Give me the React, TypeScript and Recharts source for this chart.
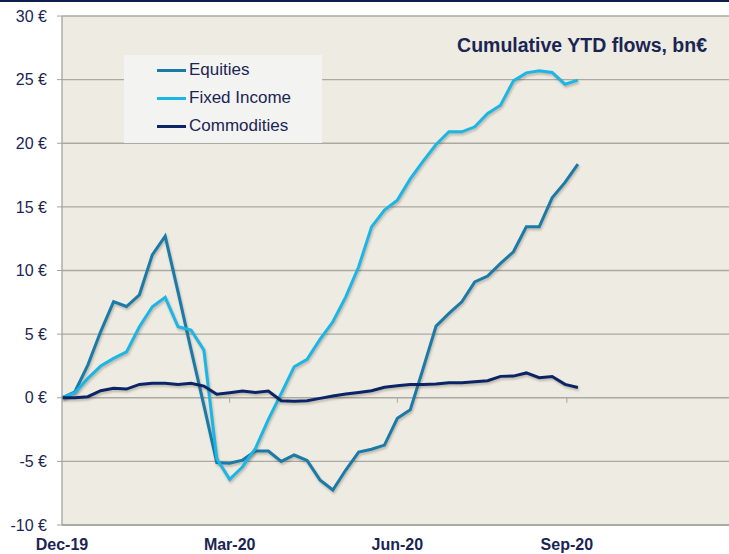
import React from "react";
import {
  LineChart,
  Line,
  XAxis,
  YAxis,
  CartesianGrid,
  ReferenceLine,
} from "recharts";

// Weekly cumulative YTD flows (bn€), week 0 = end of Dec-19
const equities = [
  0, 0.47, 2.57, 5.2, 7.56, 7.17, 8.09, 11.23, 12.7, 8.3, 3.8, -0.6, -5.1,
  -5.15, -4.9, -4.19, -4.19, -5.0, -4.5, -4.93, -6.46, -7.25, -5.68, -4.27,
  -4.05, -3.72, -1.62, -0.95, 2.3, 5.63, 6.63, 7.54, 9.11, 9.56, 10.56, 11.47,
  13.43, 13.43, 15.71, 16.92, 18.36,
];
const fixedIncome = [
  0, 0.4, 1.52, 2.49, 3.09, 3.61, 5.58, 7.15, 7.89, 5.58, 5.32, 3.75, -4.8,
  -6.41, -5.42, -3.97, -1.7, 0.35, 2.44, 3.02, 4.59, 5.97, 7.93, 10.29, 13.43,
  14.74, 15.53, 17.2, 18.6, 19.9, 20.9, 20.9, 21.29, 22.34, 22.99, 24.9, 25.53,
  25.69, 25.56, 24.64, 24.96,
];
const commodities = [
  0, 0.0, 0.08, 0.55, 0.74, 0.68, 1.05, 1.13, 1.13, 1.05, 1.13, 0.92, 0.27,
  0.39, 0.53, 0.42, 0.53, -0.23, -0.28, -0.23, -0.05, 0.13, 0.29, 0.42, 0.55,
  0.82, 0.94, 1.05, 1.05, 1.08, 1.18, 1.18, 1.26, 1.34, 1.68, 1.7, 1.95, 1.58,
  1.67, 1.05, 0.8,
];
// day offsets of each weekly observation
const dayOffsets = equities.map((_, i) => i * 7);

const xTicks = [0, 91, 182, 274];
const xTickLabels = ["Dec-19", "Mar-20", "Jun-20", "Sep-20"];
const yTicks = [-10, -5, 0, 5, 10, 15, 20, 25, 30];

const seriesNames = ["Equities", "Fixed Income", "Commodities"];
const seriesColors = ["#1A7AA8", "#1BB6E6", "#0B2466"];

const data = dayOffsets.map((d, i) => ({
  d,
  eq: equities[i],
  fi: fixedIncome[i],
  co: commodities[i],
}));

const NAVY = "#1B2553";
const FONT = "'Liberation Sans', Arial, sans-serif";

const LegendBox = () => (
  <div
    style={{
      position: "absolute",
      left: 124,
      top: 55,
      width: 198,
      height: 88,
      background: "#F3F3F2",
      boxSizing: "border-box",
      paddingTop: 1,
    }}
  >
    {seriesNames.map((n, i) => (
      <div
        key={n}
        style={{
          display: "flex",
          alignItems: "center",
          height: 28,
          paddingLeft: 33,
        }}
      >
        <div
          style={{
            width: 29,
            height: 3,
            background: seriesColors[i],
            marginRight: 3,
          }}
        />
        <span
          style={{
            fontFamily: FONT,
            fontSize: 17,
            color: NAVY,
            lineHeight: "28px",
          }}
        >
          {n}
        </span>
      </div>
    ))}
  </div>
);

export default function App() {
  const keys = ["eq", "fi", "co"];
  return (
    <div
      style={{
        position: "fixed",
        left: 0,
        top: 0,
        width: 729,
        height: 554,
        overflow: "hidden",
        background: "#FFFFFF",
      }}
    >
      <style>{`.recharts-line-curve{filter:drop-shadow(1px 2px 1.2px rgba(60,50,30,0.28));}`}</style>
      <div
        style={{
          position: "absolute",
          left: 0,
          top: 0,
          width: 729,
          height: 2,
          background: "#0E1F4F",
        }}
      />
      <LineChart
        width={729}
        height={554}
        data={data}
        margin={{ top: 16, right: 0, bottom: 0, left: 0 }}
      >
        <CartesianGrid
          vertical={false}
          fill="#EEEBE2"
          stroke="#ABA9A2"
          strokeWidth={1.3}
        />
        <XAxis
          dataKey="d"
          type="number"
          domain={[0, 362]}
          ticks={xTicks}
          tickFormatter={(v: number) => xTickLabels[xTicks.indexOf(v)] ?? ""}
          tickLine={false}
          axisLine={{ stroke: "#A6A49D", strokeWidth: 1.3 }}
          tickSize={6}
          tickMargin={8}
          height={29}
          interval={0}
          tick={{
            fill: NAVY,
            fontSize: 16,
            fontWeight: 700,
            fontFamily: FONT,
          }}
        />
        <YAxis
          type="number"
          domain={[-10, 30]}
          ticks={yTicks}
          interval={0}
          width={62}
          tickFormatter={(v: number) => `${v} €`}
          tickSize={5}
          tickMargin={10}
          tickLine={{ stroke: "#A6A49D" }}
          axisLine={{ stroke: "#A6A49D", strokeWidth: 1.3 }}
          tick={{ fill: NAVY, fontSize: 16, fontFamily: FONT }}
        />
        {xTicks.slice(1).map((t) => (
          <ReferenceLine
            key={t}
            segment={[
              { x: t, y: 0 },
              { x: t, y: -0.4 },
            ]}
            stroke="#A6A49D"
            strokeWidth={1}
            ifOverflow="visible"
          />
        ))}
        {keys.map((k, i) => (
          <Line
            key={k}
            dataKey={k}
            name={seriesNames[i]}
            type="linear"
            stroke={seriesColors[i]}
            strokeWidth={3}
            dot={false}
            activeDot={false}
            isAnimationActive={false}
          />
        ))}
      </LineChart>
      <LegendBox />
      <div
        style={{
          position: "absolute",
          right: 22,
          top: 33,
          fontFamily: FONT,
          fontWeight: 700,
          fontSize: 19.5,
          color: NAVY,
          whiteSpace: "nowrap",
          lineHeight: "24px",
        }}
      >
        Cumulative YTD flows, bn€
      </div>
    </div>
  );
}
